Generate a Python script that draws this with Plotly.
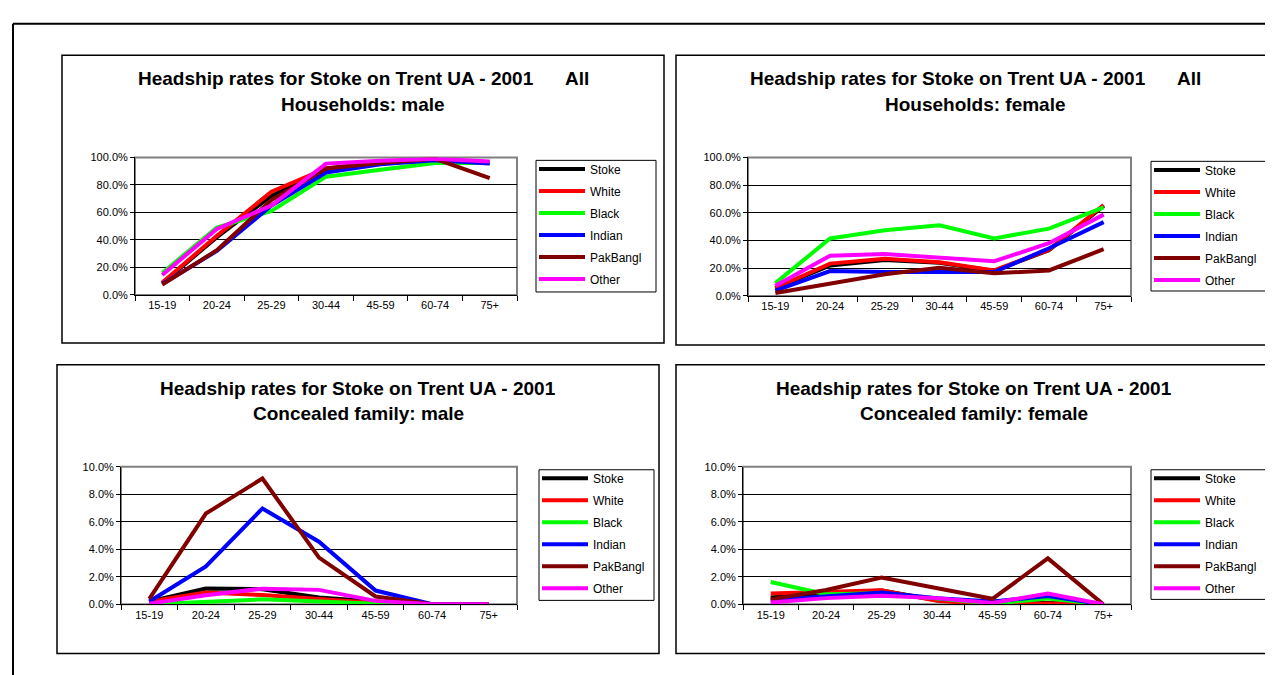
import plotly.graph_objects as go

W, H = 1273, 675

ages = ["15-19", "20-24", "25-29", "30-44", "45-59", "60-74", "75+"]
series_names = ["Stoke", "White", "Black", "Indian", "PakBangl", "Other"]
series_colors = ["#000000", "#FF0000", "#00FF00", "#0000FF", "#800000", "#FF00FF"]

# All Households: male
hh_male_stoke = [0.085, 0.42, 0.72, 0.91, 0.96, 0.98, 0.96]
hh_male_white = [0.09, 0.43, 0.75, 0.92, 0.965, 0.98, 0.965]
hh_male_black = [0.16, 0.49, 0.61, 0.86, 0.91, 0.96, 0.96]
hh_male_indian = [0.08, 0.32, 0.65, 0.89, 0.95, 0.98, 0.955]
hh_male_pakbangl = [0.075, 0.325, 0.69, 0.92, 0.96, 0.99, 0.85]
hh_male_other = [0.145, 0.48, 0.65, 0.955, 0.975, 0.99, 0.97]

# All Households: female
hh_female_stoke = [0.055, 0.22, 0.26, 0.24, 0.18, 0.33, 0.65]
hh_female_white = [0.057, 0.233, 0.269, 0.243, 0.184, 0.333, 0.656]
hh_female_black = [0.092, 0.415, 0.474, 0.51, 0.415, 0.486, 0.639]
hh_female_indian = [0.038, 0.179, 0.172, 0.172, 0.172, 0.344, 0.533]
hh_female_pakbangl = [0.021, 0.09, 0.156, 0.203, 0.163, 0.184, 0.337]
hh_female_other = [0.073, 0.29, 0.302, 0.274, 0.25, 0.38, 0.587]

# Concealed family: male
cf_male_stoke = [0.002, 0.0115, 0.011, 0.005, 0.002, 0.0, 0.0]
cf_male_white = [0.002, 0.0086, 0.0067, 0.004, 0.001, 0.0, 0.0]
cf_male_black = [0.0, 0.0019, 0.0036, 0.002, 0.0005, 0.0, 0.0]
cf_male_indian = [0.002, 0.0275, 0.0697, 0.0455, 0.010, 0.0, 0.0]
cf_male_pakbangl = [0.004, 0.066, 0.0915, 0.034, 0.0057, 0.0, 0.0]
cf_male_other = [0.0005, 0.0066, 0.0114, 0.0105, 0.0025, 0.0, 0.0]

# Concealed family: female
cf_female_stoke = [0.005, 0.008, 0.010, 0.003, 0.0005, 0.001, 0.0]
cf_female_white = [0.0079, 0.009, 0.0102, 0.0025, 0.0, 0.0005, 0.0]
cf_female_black = [0.0162, 0.0074, 0.008, 0.004, 0.0005, 0.0043, 0.0]
cf_female_indian = [0.003, 0.006, 0.0086, 0.0045, 0.002, 0.006, 0.0]
cf_female_pakbangl = [0.0036, 0.0104, 0.0194, 0.0115, 0.004, 0.0334, 0.0]
cf_female_other = [0.0014, 0.0045, 0.0062, 0.0045, 0.001, 0.0079, 0.0]

title_line1 = "Headship rates for Stoke on Trent UA - 2001"
gap_all = "\u00a0" * 6 + "All"
panel_titles = [
    (title_line1 + gap_all, "Households: male"),
    (title_line1 + gap_all, "Households: female"),
    (title_line1, "Concealed family: male"),
    (title_line1, "Concealed family: female"),
]

panel_data = [
    [hh_male_stoke, hh_male_white, hh_male_black, hh_male_indian, hh_male_pakbangl, hh_male_other],
    [hh_female_stoke, hh_female_white, hh_female_black, hh_female_indian, hh_female_pakbangl, hh_female_other],
    [cf_male_stoke, cf_male_white, cf_male_black, cf_male_indian, cf_male_pakbangl, cf_male_other],
    [cf_female_stoke, cf_female_white, cf_female_black, cf_female_indian, cf_female_pakbangl, cf_female_other],
]
y_max = [1.0, 1.0, 0.10, 0.10]
y_step = [0.2, 0.2, 0.02, 0.02]

# layout geometry in pixels
panel_box = [(54, 42, 656, 335), (668, 42, 1266, 337), (49, 357, 651, 651), (668, 357, 1264, 651)]
plot_area = [(127, 146, 509, 286), (740, 146, 1123, 287), (113, 461, 509, 601), (735, 461, 1123, 601)]
legend_box = [(528, 149, 648, 283), (1143, 150, 1262, 282), (531, 464, 646, 597), (1143, 464, 1262, 596)]
title_y = [(66, 92), (66, 92), (381, 407), (381, 407)]

FONT = "Arial, Liberation Sans, sans-serif"

def px(x):
    return x / W

def py(y):
    return 1 - y / H

fig = go.Figure()
layout = dict(
    width=W, height=H, margin=dict(l=0, r=0, t=0, b=0),
    paper_bgcolor="white", plot_bgcolor="white",
    font=dict(family=FONT, size=11, color="black"),
    showlegend=True,
)
shapes = []
annotations = []

for i in range(4):
    n = "" if i == 0 else str(i + 1)
    xa, ya = "xaxis" + n, "yaxis" + n
    xr, yr = "x" + n, "y" + n
    lg = "legend" + n
    x0, y0, x1, y1 = plot_area[i]
    layout[xa] = dict(
        domain=[px(x0), px(x1)], anchor=yr, type="category",
        categoryorder="array", categoryarray=ages,
        showgrid=False, showline=True, linecolor="black", linewidth=1,
        ticks="outside", tickson="boundaries", ticklen=5, tickcolor="black",
        tickfont=dict(size=11, family=FONT), range=[-0.5, 6.5], fixedrange=True,
    )
    layout[ya] = dict(
        domain=[py(y1), py(y0)], anchor=xr, range=[0, y_max[i]], dtick=y_step[i],
        tickformat=".1%", showgrid=True, gridcolor="black", gridwidth=1,
        showline=True, linecolor="black", linewidth=1, zeroline=False,
        ticks="outside", ticklen=4, tickcolor="black",
        tickfont=dict(size=11, family=FONT), fixedrange=True,
    )
    for k, name in enumerate(series_names):
        fig.add_trace(go.Scatter(
            x=ages, y=panel_data[i][k], mode="lines", name=name,
            line=dict(color=series_colors[k], width=4),
            xaxis=xr, yaxis=yr, legend=lg, legendgroup=f"g{i}_{k}",
            hoverinfo="skip",
        ))
    lx0, ly0, lx1, ly1 = legend_box[i]
    layout[lg] = dict(
        x=px(lx0 - 2), y=py(ly0 - 6), xanchor="left", yanchor="top",
        bgcolor="rgba(0,0,0,0)", borderwidth=0,
        font=dict(size=12, family=FONT, color="black"),
        tracegroupgap=3, itemwidth=46,
    )
    # legend box
    shapes.append(dict(type="rect", xref="paper", yref="paper",
                       x0=px(lx0), x1=px(lx1), y0=py(ly1), y1=py(ly0),
                       line=dict(color="black", width=1)))
    # plot area border (grey)
    shapes.append(dict(type="rect", xref="paper", yref="paper",
                       x0=px(x0), x1=px(x1), y0=py(y1), y1=py(y0),
                       layer="below", line=dict(color="#808080", width=2)))
    # panel box
    bx0, by0, bx1, by1 = panel_box[i]
    shapes.append(dict(type="rect", xref="paper", yref="paper",
                       x0=px(bx0), x1=px(bx1), y0=py(by1), y1=py(by0),
                       line=dict(color="black", width=1.5)))
    # titles
    cx = (bx0 + bx1) / 2
    for line_text, ty in zip(panel_titles[i], title_y[i]):
        annotations.append(dict(
            x=px(cx), y=py(ty), xref="paper", yref="paper",
            xanchor="center", yanchor="middle", showarrow=False,
            text="<b>" + line_text + "</b>",
            font=dict(size=19, family=FONT, color="black"),
        ))

# outer frame
shapes.append(dict(type="line", xref="paper", yref="paper",
                   x0=px(5), x1=px(1273), y0=py(10), y1=py(10),
                   line=dict(color="black", width=2)))
shapes.append(dict(type="line", xref="paper", yref="paper",
                   x0=px(5), x1=px(5), y0=py(10), y1=py(675),
                   line=dict(color="black", width=2)))

layout["shapes"] = shapes
layout["annotations"] = annotations
fig.update_layout(**layout)
fig.write_html("out.html")
